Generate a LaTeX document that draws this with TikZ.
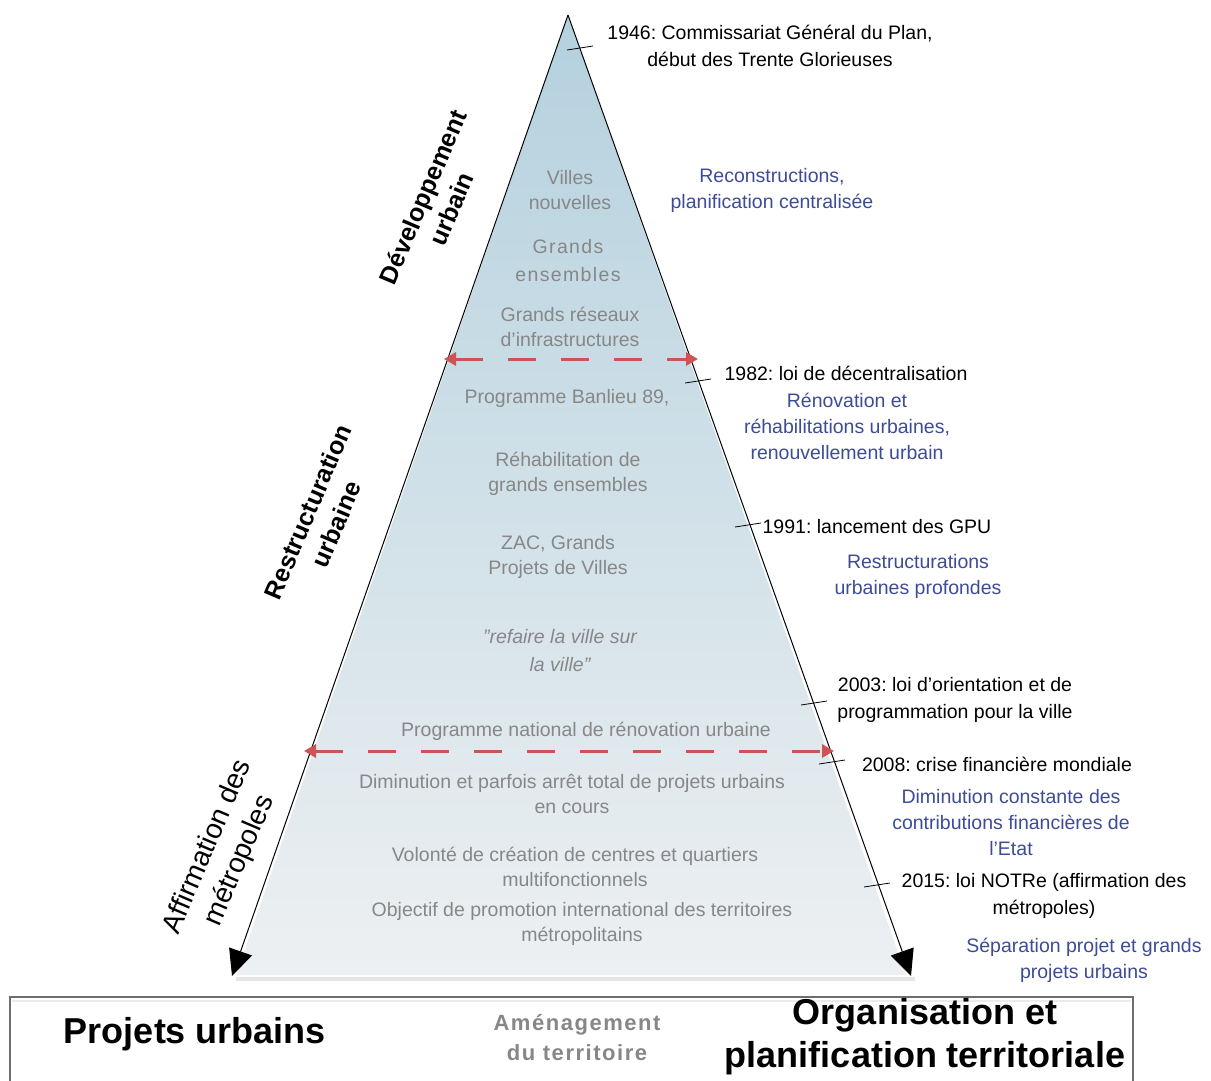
\documentclass[tikz,border=0pt]{standalone}
\usepackage{fontspec}
\setmainfont{Liberation Sans}
\newfontfamily\spaced[LetterSpace=7]{Liberation Sans}
\usetikzlibrary{arrows.meta}
\definecolor{blu}{RGB}{62,76,152}
\definecolor{gtx}{RGB}{135,135,135}
\definecolor{redd}{RGB}{204,84,84}
\definecolor{topc}{RGB}{180,209,222}
\definecolor{botc}{RGB}{237,240,242}
\definecolor{boxc}{RGB}{110,110,110}
\frenchspacing
\begin{document}
\begin{tikzpicture}[x=1pt,y=-1pt,
  every node/.style={inner sep=0pt, align=center},
  gtxt/.style={text=gtx, font=\fontsize{19.5}{25.5}\selectfont},
  btxt/.style={text=blu, font=\fontsize{19.5}{26}\selectfont},
  ktxt/.style={text=black, font=\fontsize{19.5}{26.5}\selectfont},
  sidelab/.style={font=\bfseries\fontsize{25}{31}\selectfont, rotate=67},
  ticks/.style={black, line width=0.8pt},
  mainarrow/.style={black, line width=1pt, -{Triangle[length=26pt,width=24pt]}},
  redarrow/.style={redd, line width=3pt, dash pattern=on 28pt off 25pt,
     {Triangle[length=12pt,width=13pt]}-{Triangle[length=12pt,width=13pt]}},
  bigbold/.style={font=\bfseries\fontsize{36}{43}\selectfont}]
\useasboundingbox (0,0) rectangle (1211,1080);
\fill[white] (0,0) rectangle (1211,1080);

% geometry
\coordinate (apex) at (568,15);
\coordinate (lt) at (232,976);
\coordinate (rt) at (911,976);

% shaded triangle
\shade[top color=topc, bottom color=botc] (apex) -- (236,975) -- (906,975) -- cycle;
\draw[line width=4pt, black!10] (236,979) -- (915,979);

% main arrows
\draw[mainarrow] (apex) -- (lt);
\draw[mainarrow] (apex) -- (rt);

% red dashed arrows
\coordinate (d1l) at (444,359);
\coordinate (d1r) at (698,359);
\coordinate (d2l) at (304,751);
\coordinate (d2r) at (834,751);
\draw[redarrow] (d1l) -- (d1r);
\draw[redarrow] (d2l) -- (d2r);

% ticks on right edge
\foreach \n/\px/\py in {a/580/48, b/698/381, c/748/525, d/814/703, e/832/762, f/877/885}{
  \coordinate (t\n) at (\px,\py);
  \draw[ticks] ([shift={(-13,2)}]t\n) -- ([shift={(13,-2)}]t\n);
}

% inner texts
\node[gtxt] (v1) at (570,190) {Villes\\nouvelles};
\node[gtxt, font=\spaced\fontsize{19.5}{28}\selectfont] (v2) at (568,261) {Grands\\ensembles};
\node[gtxt] (v3) at (570,327) {Grands réseaux\\d'infrastructures};
\node[gtxt] (v4) at (567,398) {Programme Banlieu 89,};
\node[gtxt] (v5) at (568,474) {Réhabilitation de\\grands ensembles};
\node[gtxt] (v6) at (558,557) {ZAC, Grands\\Projets de Villes};
\node[gtxt, font=\itshape\fontsize{19.5}{28}\selectfont] (v7) at (560,651) {\symbol{34}refaire la ville sur\\la ville\symbol{34}};
\node[gtxt] (v8) at (586,731) {Programme national de rénovation urbaine};
\node[gtxt] (v9) at (572,794) {Diminution et parfois arrêt total de projets urbains\\en cours};
\node[gtxt] (v10) at (575,867) {Volonté de création de centres et quartiers\\multifonctionnels};
\node[gtxt] (v11) at (582,924) {Objectif de promotion international des territoires\\métropolitains};

% right texts
\node[ktxt] (r1) at (770,46) {1946: Commissariat Général du Plan,\\début des Trente Glorieuses};
\node[btxt] (r2) at (772,190) {Reconstructions,\\planification centralisée};
\node[ktxt] (r3) at (846,373) {1982: loi de décentralisation};
\node[btxt] (r4) at (847,426) {Rénovation et\\réhabilitations urbaines,\\renouvellement urbain};
\node[ktxt] (r5) at (877,527) {1991: lancement des GPU};
\node[btxt] (r6) at (918,576) {Restructurations\\urbaines profondes};
\node[ktxt] (r7) at (955,700) {2003: loi d'orientation et de\\programmation pour la ville};
\node[ktxt] (r8) at (997,764) {2008: crise financière mondiale};
\node[btxt] (r9) at (1011,823) {Diminution constante des\\contributions financières de\\l'Etat};
\node[ktxt] (r10) at (1044,896) {2015: loi NOTRe (affirmation des\\métropoles)};
\node[btxt] (r11) at (1084,960) {Séparation projet et grands\\projets urbains};

% side labels
\node[sidelab] (s1) at (437,203) {Développement\\urbain};
\node[sidelab] (s2) at (322,518) {Restructuration\\urbaine};
\node[sidelab, font=\fontsize{28}{35}\selectfont] (s3) at (224,854) {Affirmation des\\métropoles};

% bottom box
\draw[boxc, line width=1.5pt] (10,1095) -- (10,997) -- (1133,997) -- (1133,1095);
\draw[black!8, line width=2pt] (12,1001) -- (1131,1001);
\node[bigbold] (b1) at (195,1034) {Projets urbains};
\node[text=gtx, font=\spaced\bfseries\fontsize{22}{30}\selectfont] (b2) at (577,1038) {Aménagement\\du territoire};
\node[bigbold] (b3) at (925,1037) {Organisation et\\planification territoriale};
\end{tikzpicture}
\end{document}
